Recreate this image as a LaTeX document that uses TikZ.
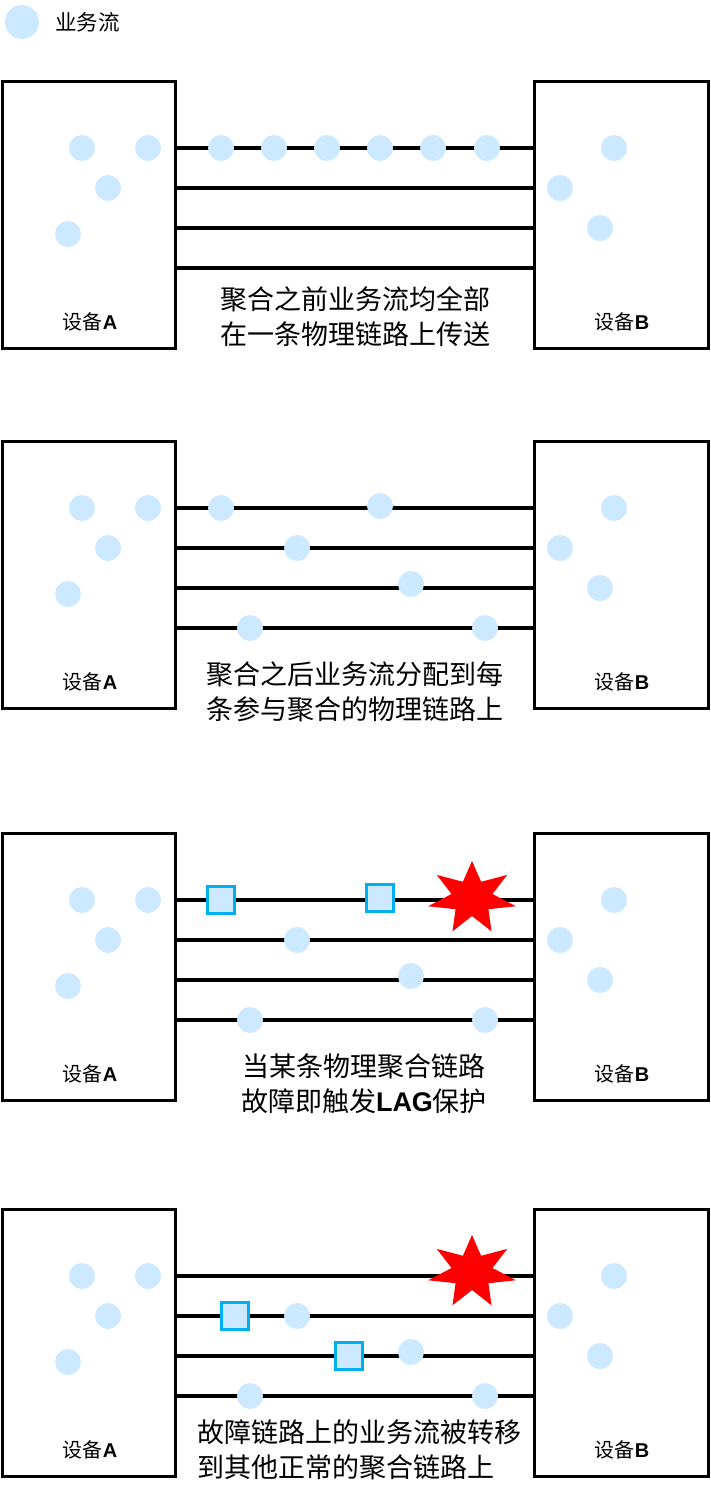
\documentclass[tikz,border=0pt]{standalone}
\usepackage{fontspec}
\setmainfont{Noto Sans CJK SC}
\newfontfamily\latinb{Liberation Sans}[BoldFont={Liberation Sans Bold}]
\newcommand{\bl}[1]{{\latinb\bfseries #1}}
\definecolor{flow}{HTML}{CCE9FF}
\definecolor{sqedge}{HTML}{00B0F0}
\definecolor{starred}{HTML}{FF0000}
\begin{document}
\begin{tikzpicture}[x=1pt,y=-1pt,
  box/.style={draw=black,line width=3pt,fill=white,inner sep=0pt},
  flowdot/.style={circle,fill=flow,minimum size=26pt,inner sep=0pt},
  moved/.style={rectangle,fill=flow,draw=sqedge,line width=2.2pt,minimum size=27pt,inner sep=0pt},
  link/.style={line width=3.5pt,black},
  devlabel/.style={font=\fontsize{20}{23}\selectfont,inner sep=0pt},
  caption/.style={font=\fontsize{27}{35}\selectfont,inner sep=0pt},
  fault/.style={fill=starred,draw=none}]
\useasboundingbox (0,0) rectangle (710,1496);
% legend
\node[flowdot,minimum size=34pt] (legdot) at (22,22) {};
\node[font=\fontsize{21.5}{24}\selectfont,anchor=west,inner sep=0pt] (legtxt) at (55,22) {业务流};
% common parts of the four panels
\foreach \o [count=\i] in {0,360,752,1128}{
  \node[box,minimum width=173pt,minimum height=267pt] (A\i) at (88.5,{214.5+\o}) {};
  \node[box,minimum width=174pt,minimum height=267pt] (B\i) at (621,{214.5+\o}) {};
  \foreach \yy [count=\k] in {148,188,228,268}{
    \coordinate (L\i-\k) at (175,{\yy+\o});
    \coordinate (R\i-\k) at (534,{\yy+\o});
    \draw[link] (L\i-\k) -- (R\i-\k);
  }
  \node[flowdot] (a\i-1) at (82,{148+\o}) {};
  \node[flowdot] (a\i-2) at (148,{148+\o}) {};
  \node[flowdot] (a\i-3) at (108,{188+\o}) {};
  \node[flowdot] (a\i-4) at (68,{234+\o}) {};
  \node[flowdot] (b\i-1) at (614,{148+\o}) {};
  \node[flowdot] (b\i-2) at (560,{188+\o}) {};
  \node[flowdot] (b\i-3) at (600,{228+\o}) {};
  \node[devlabel] (la\i) at (90,{322+\o}) {设备\bl{A}};
  \node[devlabel] (lb\i) at (622,{322+\o}) {设备\bl{B}};
}
% panel 1
\foreach \x [count=\j] in {221,274,327,380,433,487}{
  \node[flowdot] (p1f\j) at (\x,148) {};
}
\node[caption,align=center] (cap1) at (355,317) {聚合之前业务流均全部\\在一条物理链路上传送};
% panel 2
\node[flowdot] (p2f1) at (221,508) {};
\node[flowdot] (p2f2) at (380,506) {};
\node[flowdot] (p2f3) at (297,548) {};
\node[flowdot] (p2f4) at (411,584) {};
\node[flowdot] (p2f5) at (250,628) {};
\node[flowdot] (p2f6) at (485,628) {};
\node[caption,align=center] (cap2) at (355,692) {聚合之后业务流分配到每\\条参与聚合的物理链路上};
% panel 3
\node[moved] (p3s1) at (221,900) {};
\node[moved] (p3s2) at (380,898) {};
\node[flowdot] (p3f3) at (297,940) {};
\node[flowdot] (p3f4) at (411,976) {};
\node[flowdot] (p3f5) at (250,1020) {};
\node[flowdot] (p3f6) at (485,1020) {};
\fill[fault] plot[samples at={0,...,13},variable=\t]
  ({472+(mod(\t,2)==0?45:21)*cos(90+\t*360/14)},{898-(mod(\t,2)==0?37:18)*sin(90+\t*360/14)}) -- cycle;
\node[caption,align=center] (cap3) at (364,1084) {当某条物理聚合链路\\故障即触发\bl{LAG}保护};
% panel 4
\node[moved] (p4s1) at (235,1316) {};
\node[moved] (p4s2) at (349,1356) {};
\node[flowdot] (p4f1) at (297,1316) {};
\node[flowdot] (p4f2) at (411,1352) {};
\node[flowdot] (p4f3) at (250,1396) {};
\node[flowdot] (p4f4) at (485,1396) {};
\fill[fault] plot[samples at={0,...,13},variable=\t]
  ({472+(mod(\t,2)==0?45:21)*cos(90+\t*360/14)},{1272-(mod(\t,2)==0?37:18)*sin(90+\t*360/14)}) -- cycle;
\node[caption,align=left,anchor=west] (cap4) at (197,1450) {故障链路上的业务流被转移\\到其他正常的聚合链路上};
\end{tikzpicture}
\end{document}
